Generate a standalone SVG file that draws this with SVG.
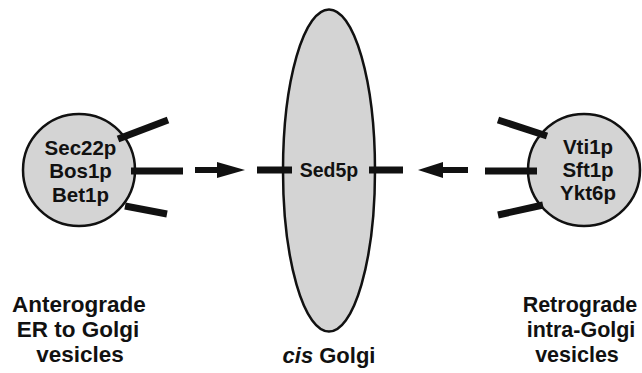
<svg xmlns="http://www.w3.org/2000/svg" width="642" height="373" viewBox="0 0 642 373">
<style>
.shape{fill:#d4d4d4;stroke:#111;stroke-width:2.5}
.bar{stroke:#111;stroke-width:7;fill:none}
.shaft{stroke:#111;stroke-width:6;fill:none}
.head{fill:#111}
.t{font-family:"Liberation Sans",Arial,sans-serif;font-weight:bold;fill:#111;text-anchor:middle}
.in{font-size:20.5px}
.lab{font-size:22px}
</style>
<rect width="642" height="373" fill="#fff"/>
<g id="golgi">
<ellipse class="shape" cx="329" cy="170.5" rx="46" ry="161"/>
<text class="t in" x="329" y="177" style="font-size:19.5px">Sed5p</text>
</g>
<g id="anterograde">
<circle class="shape" cx="79" cy="170" r="56"/>
<text class="t in" x="80.5" y="155">Sec22p</text>
<text class="t in" x="80.5" y="178">Bos1p</text>
<text class="t in" x="80.5" y="202">Bet1p</text>
</g>
<g id="retrograde">
<circle class="shape" cx="584" cy="170" r="56"/>
<text class="t in" x="588" y="154">Vti1p</text>
<text class="t in" x="588" y="177">Sft1p</text>
<text class="t in" x="588" y="200">Ykt6p</text>
</g>
<g id="connectors">
<line class="bar" x1="118" y1="139" x2="168" y2="120"/>
<line class="bar" x1="131" y1="171" x2="183" y2="171"/>
<line class="bar" x1="125" y1="206" x2="167" y2="214"/>
<line class="shaft" x1="195" y1="170" x2="220" y2="170"/>
<polygon class="head" points="217,162 245,170 217,178"/>
<line class="bar" x1="257" y1="170" x2="292" y2="170"/>
<line class="bar" x1="369" y1="170" x2="403" y2="170"/>
<polygon class="head" points="443,162 418,170 443,178"/>
<line class="shaft" x1="440" y1="170" x2="468" y2="170"/>
<line class="bar" x1="485" y1="171" x2="537" y2="171"/>
<line class="bar" x1="498" y1="120" x2="547" y2="136"/>
<line class="bar" x1="498" y1="215" x2="543" y2="205"/>
</g>
<g id="labels">
<text class="t lab" x="79" y="312" style="font-size:22.5px">Anterograde</text>
<text class="t lab" x="78" y="337" style="font-size:22.5px">ER to Golgi</text>
<text class="t lab" x="80" y="362" style="font-size:22.5px">vesicles</text>
<text class="t lab" x="329" y="363"><tspan font-style="italic">cis</tspan> Golgi</text>
<text class="t lab" x="580" y="312" style="font-size:21.5px">Retrograde</text>
<text class="t lab" x="581" y="337" style="font-size:21.5px">intra-Golgi</text>
<text class="t lab" x="577" y="362" style="font-size:21.5px">vesicles</text>
</g>
</svg>
